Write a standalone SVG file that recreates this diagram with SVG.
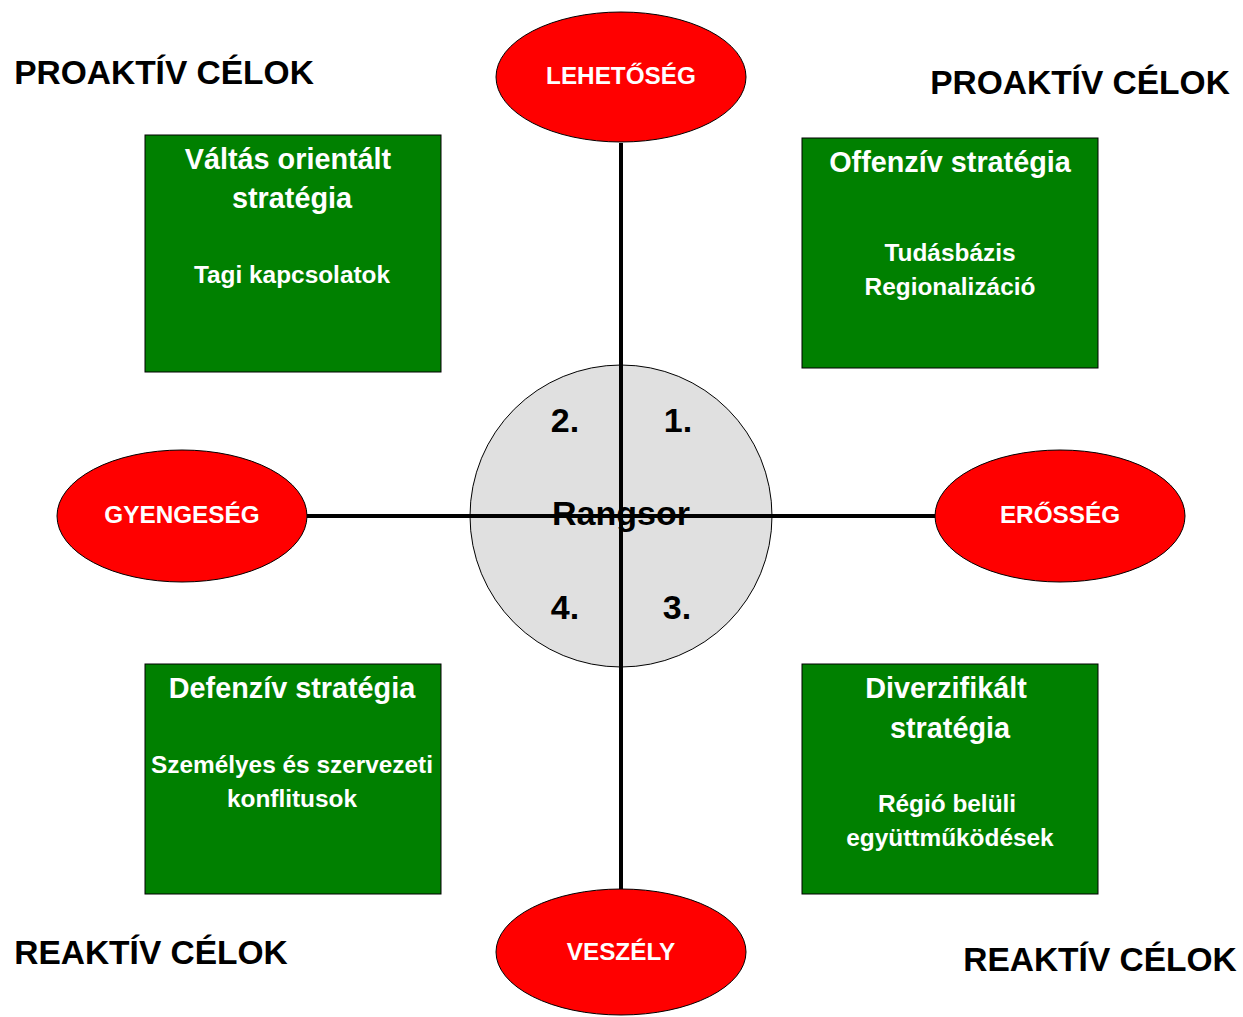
<svg xmlns="http://www.w3.org/2000/svg" width="1243" height="1017" viewBox="0 0 1243 1017">
<style>
.bg{fill:#ffffff}
.oval{fill:#ff0000;stroke:#000;stroke-width:1}
.box{fill:#008000;stroke:#000;stroke-width:1}
.hub{fill:#e0e0e0;stroke:#000;stroke-width:1}
.axis{stroke:#000;stroke-width:4;fill:none}
text{font-family:"Liberation Sans",Arial,sans-serif;font-weight:bold;text-anchor:middle}
.ol{fill:#fff;font-size:24.3px}
.ti{fill:#fff;font-size:28.8px}
.sub{fill:#fff;font-size:24.4px}
.cap{fill:#000;font-size:33.5px}
.num{fill:#000;font-size:34px}
</style>
<rect class="bg" x="0" y="0" width="1243" height="1017"/>
<g id="corner-labels">
<text class="cap" x="164" y="84">PROAKTÍV CÉLOK</text>
<text class="cap" x="1080" y="94">PROAKTÍV CÉLOK</text>
<text class="cap" x="151" y="964">REAKTÍV CÉLOK</text>
<text class="cap" x="1100" y="971">REAKTÍV CÉLOK</text>
</g>
<g id="hub">
<circle class="hub" cx="621" cy="516" r="151"/>
<text class="num" x="621" y="525">Rangsor</text>
<text class="num" x="565" y="432">2.</text>
<text class="num" x="678" y="432">1.</text>
<text class="num" x="565" y="619">4.</text>
<text class="num" x="677" y="619">3.</text>
</g>
<g id="connectors">
<line class="axis" x1="621" y1="143" x2="621" y2="890"/>
<line class="axis" x1="307" y1="516" x2="935" y2="516"/>
</g>
<g id="lehetoseg">
<ellipse class="oval" cx="621" cy="77" rx="125" ry="65"/>
<text class="ol" x="621" y="84">LEHETŐSÉG</text>
</g>
<g id="gyengeseg">
<ellipse class="oval" cx="182" cy="516" rx="125" ry="66"/>
<text class="ol" x="182" y="523">GYENGESÉG</text>
</g>
<g id="erosseg">
<ellipse class="oval" cx="1060" cy="516" rx="125" ry="66"/>
<text class="ol" x="1060" y="523">ERŐSSÉG</text>
</g>
<g id="veszely">
<ellipse class="oval" cx="621" cy="952" rx="125" ry="63"/>
<text class="ol" x="621" y="960">VESZÉLY</text>
</g>
<g id="valtas">
<rect class="box" x="145" y="135" width="296" height="237"/>
<text class="ti" x="288" y="169">Váltás orientált</text>
<text class="ti" x="292" y="208">stratégia</text>
<text class="sub" x="292" y="283">Tagi kapcsolatok</text>
</g>
<g id="offenziv">
<rect class="box" x="802" y="138" width="296" height="230"/>
<text class="ti" x="950" y="172">Offenzív stratégia</text>
<text class="sub" x="950" y="261">Tudásbázis</text>
<text class="sub" x="950" y="295">Regionalizáció</text>
</g>
<g id="defenziv">
<rect class="box" x="145" y="664" width="296" height="230"/>
<text class="ti" x="292" y="698">Defenzív stratégia</text>
<text class="sub" x="292" y="773">Személyes és szervezeti</text>
<text class="sub" x="292" y="807">konflitusok</text>
</g>
<g id="diverzifikalt">
<rect class="box" x="802" y="664" width="296" height="230"/>
<text class="ti" x="946" y="698">Diverzifikált</text>
<text class="ti" x="950" y="738">stratégia</text>
<text class="sub" x="947" y="812">Régió belüli</text>
<text class="sub" x="950" y="846">együttműködések</text>
</g>
</svg>
